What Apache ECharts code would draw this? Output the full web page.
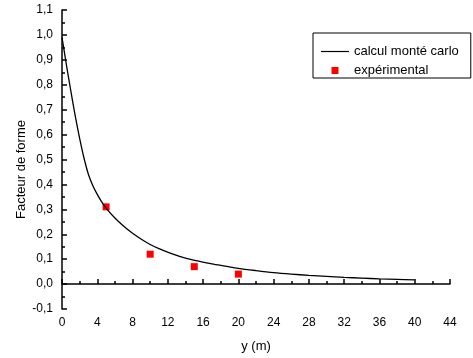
<!DOCTYPE html>
<html>
<head>
<meta charset="utf-8">
<script src="https://cdn.jsdelivr.net/npm/echarts@6/dist/echarts.min.js"></script>
<style>
    html, body { margin: 0; padding: 0; background: #fff; }
    #chart { width: 473px; height: 358px; }
</style>
</head>
<body>
<div id="chart"></div>
<script>
    // courbe calcul monté carlo
    var curveX = [0, 0.5, 1.0, 1.5, 2.0, 2.5, 3.0, 3.5, 4.0, 4.5, 5.0, 6.0, 7.0, 8.0, 9.0, 10, 11, 12.5, 14, 15.5, 17, 18.5, 20, 22, 24, 26, 28, 30, 32, 34, 36, 38, 40];
    var curveY = [0.99, 0.88, 0.775, 0.675, 0.585, 0.505, 0.44, 0.395, 0.36, 0.33, 0.305, 0.265, 0.232, 0.204, 0.18, 0.159, 0.142, 0.121, 0.104, 0.092, 0.081, 0.072, 0.063, 0.054, 0.046, 0.040, 0.035, 0.031, 0.027, 0.024, 0.021, 0.019, 0.017];
    // points expérimentaux
    var expX = [5, 10, 15, 20];
    var expY = [0.31, 0.12, 0.07, 0.04];

    var seriesNames = ['calcul monté carlo', 'expérimental'];

    var curveData = curveX.map(function (x, i) { return [x, curveY[i]]; });
    var expData = expX.map(function (x, i) { return [x, expY[i]]; });

    var font = 'Liberation Sans, Arial, sans-serif';
    var myChart = echarts.init(document.getElementById('chart'));
    var option = {
        animation: false,
        backgroundColor: '#fff',
        grid: { left: 62, right: 23, top: 10, bottom: 48 },
        legend: {
            orient: 'vertical',
            left: 313,
            top: 33,
            width: 150,
            padding: [12, 12, 1, 8],
            borderColor: '#000',
            borderWidth: 1,
            borderRadius: 0,
            itemWidth: 28,
            itemHeight: 7,
            itemGap: 6,
            textStyle: { color: '#000', fontSize: 13, fontFamily: font },
            data: [
                { name: seriesNames[0], icon: 'path://M0,0 L28,0 L28,1.2 L0,1.2 Z' },
                { name: seriesNames[1], icon: 'path://M0,0 L1,0 L1,1 L0,1 Z' }
            ]
        },
        xAxis: {
            type: 'value',
            min: 0,
            max: 44,
            interval: 4,
            name: 'y (m)',
            nameLocation: 'middle',
            nameGap: 31,
            nameMoveOverlap: false,
            nameTextStyle: { color: '#000', fontSize: 13, fontFamily: font },
            axisLine: { lineStyle: { color: '#000', width: 1.5 } },
            axisTick: { inside: true, length: 5, lineStyle: { color: '#000', width: 1.5 } },
            minorTick: { show: true, splitNumber: 2, length: 3, lineStyle: { color: '#000', width: 1.5 } },
            axisLabel: { color: '#000', fontSize: 12, fontFamily: font, margin: 8 },
            splitLine: { show: false }
        },
        yAxis: {
            type: 'value',
            min: -0.1,
            max: 1.1,
            interval: 0.1,
            name: 'Facteur de forme',
            nameLocation: 'middle',
            nameGap: 34,
            nameMoveOverlap: false,
            nameTextStyle: { color: '#000', fontSize: 13, fontFamily: font, padding: [0, 20, 0, 0] },
            axisLine: { lineStyle: { color: '#000', width: 1.5 } },
            axisTick: { inside: true, length: 5, lineStyle: { color: '#000', width: 1.5 } },
            minorTick: { show: true, splitNumber: 2, length: 3, lineStyle: { color: '#000', width: 1.5 } },
            axisLabel: {
                color: '#000', fontSize: 12, fontFamily: font, margin: 9,
                formatter: function (v) {
                    if (Math.abs(v) < 1e-9) v = 0;
                    return v.toFixed(1).replace('.', ',');
                }
            },
            splitLine: { show: false }
        },
        series: [
            {
                name: seriesNames[0],
                type: 'line',
                data: curveData,
                smooth: 0.3,
                symbol: 'none',
                lineStyle: { color: '#000', width: 1.3 },
                itemStyle: { color: '#000' }
            },
            {
                name: seriesNames[1],
                type: 'scatter',
                data: expData,
                symbol: 'rect',
                symbolSize: 7,
                itemStyle: { color: '#ff0000', opacity: 1 }
            }
        ]
    };
    myChart.setOption(option);
</script>
</body>
</html>
